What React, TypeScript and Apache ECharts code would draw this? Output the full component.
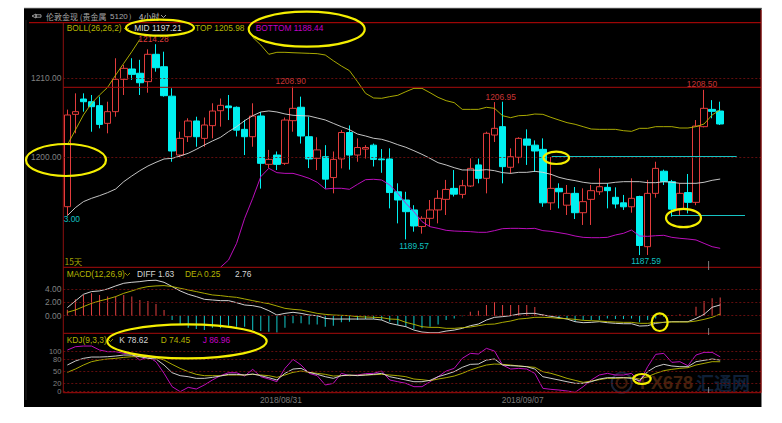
import React, { useEffect, useRef } from "react";
import * as echarts from "echarts";

const opens = [1193.71,1205.4,1207.34,1207.0,1206.5,1204.26,1205.74,1209.83,1211.14,1210.6,1209.54,1213.0,1211.43,1207.7,1200.25,1202.57,1204.56,1202.36,1203.97,1205.86,1206.46,1206.29,1203.5,1202.57,1205.19,1199.07,1200.25,1199.2,1204.6,1206.3,1202.57,1199.83,1200.04,1197.4,1199.75,1203.1,1200.25,1201.0,1201.5,1199.75,1199.75,1195.6,1194.56,1193.3,1191.2,1192.24,1193.3,1194.64,1196.03,1195.27,1196.33,1199.0,1197.3,1202.78,1203.84,1198.7,1199.96,1202.28,1201.5,1200.97,1194.2,1196.03,1193.9,1195.4,1192.95,1194.64,1195.6,1196.16,1194.9,1194.2,1193.7,1195.0,1188.65,1195.4,1198.2,1196.88,1193.4,1195.5,1194.26,1203.84,1206.03,1205.82];
const closes = [1205.32,1205.74,1207.0,1206.37,1204.13,1205.74,1209.83,1211.22,1210.46,1209.4,1213.0,1211.3,1207.76,1200.76,1202.36,1204.56,1202.57,1204.05,1205.82,1206.54,1206.24,1203.4,1202.57,1205.19,1199.2,1199.7,1199.07,1204.68,1206.16,1202.66,1199.75,1200.9,1197.2,1199.7,1203.1,1200.25,1201.2,1201.2,1199.7,1199.65,1195.5,1194.56,1193.08,1191.27,1192.24,1193.3,1194.77,1195.9,1195.3,1196.37,1198.56,1197.3,1203.0,1203.63,1198.78,1200.04,1202.36,1201.5,1200.76,1194.2,1196.03,1195.6,1195.4,1192.95,1194.35,1195.74,1196.24,1195.74,1194.05,1193.7,1194.77,1188.8,1195.4,1198.56,1196.88,1193.4,1195.4,1194.26,1203.92,1206.16,1205.78,1204.18];
const lows = [1192.66,1203.0,1205.74,1203.2,1203.63,1203.0,1205.1,1207.85,1209.75,1207.85,1208.14,1210.8,1207.64,1199.4,1200.0,1201.9,1201.3,1201.3,1202.36,1203.84,1204.68,1202.6,1200.25,1201.3,1196.0,1198.6,1198.35,1199.0,1203.2,1201.7,1198.6,1198.35,1196.0,1195.4,1198.56,1198.4,1199.4,1199.8,1198.8,1198.0,1193.5,1191.6,1189.57,1190.55,1190.3,1191.2,1191.6,1192.66,1195.0,1194.77,1196.2,1196.67,1195.4,1201.9,1196.67,1197.9,1199.2,1199.0,1198.1,1193.7,1193.3,1193.5,1192.66,1192.15,1191.4,1191.4,1195.2,1193.5,1193.5,1193.3,1192.95,1187.59,1187.6,1194.85,1196.46,1192.45,1192.57,1192.87,1193.9,1203.75,1204.9,1204.05];
const highs = [1206.0,1208.06,1208.06,1207.85,1207.64,1207.0,1212.5,1211.65,1212.5,1212.3,1213.63,1214.28,1213.33,1208.7,1203.2,1204.9,1205.1,1205.0,1206.8,1207.4,1207.85,1206.4,1204.7,1206.8,1205.7,1200.9,1200.7,1205.0,1208.9,1207.64,1205.1,1202.5,1201.5,1200.7,1203.4,1204.0,1202.36,1201.5,1201.7,1201.0,1201.1,1196.67,1195.6,1193.9,1192.5,1194.56,1195.8,1197.1,1198.35,1197.1,1199.83,1199.8,1203.2,1206.95,1207.0,1201.1,1202.5,1203.5,1202.1,1202.36,1200.0,1196.67,1196.46,1196.2,1196.03,1196.46,1198.56,1196.67,1196.16,1195.2,1197.3,1195.1,1197.1,1199.4,1198.4,1197.1,1196.67,1197.85,1204.68,1208.5,1207.2,1207.0];

const n = null;
const bollTop = [1201.52,1203.42,1205.32,1206.79,1207.85,1208.82,1210.38,1211.86,1213.33,1214.89,n,n,n,n,n,n,n,n,n,n,n,n,n,1215.15,1214.18,1213.0,1213.25,1213.25,1213.2,1213.16,1213.12,1213.08,1212.91,1212.19,1211.52,1210.93,1209.54,1208.06,1207.47,1207.43,1207.64,1207.81,1208.27,1208.69,1208.69,1208.14,1207.55,1207.13,1206.88,1206.03,1206.03,1206.03,1206.29,1206.16,1205.23,1204.98,1205.23,1205.27,1205.44,1205.4,1205.02,1204.68,1204.35,1204.14,1203.84,1203.54,1203.5,1203.5,1203.5,1203.33,1203.25,1203.63,1203.63,1203.84,1203.84,1203.84,1203.67,1203.67,1203.84,1204.18,1205.32,1205.98];
const bollMid = [1192.58,1193.59,1194.35,1194.77,1195.11,1195.49,1195.95,1196.88,1197.6,1198.27,1198.86,1199.33,1199.75,1199.83,1200.13,1200.47,1200.97,1201.52,1202.03,1202.49,1203.21,1203.84,1204.6,1205.23,1205.7,1205.83,1205.7,1205.45,1205.28,1205.23,1205.19,1204.94,1204.69,1204.26,1203.84,1203.46,1202.91,1202.66,1202.37,1202.24,1201.94,1201.56,1201.23,1200.8,1200.34,1199.83,1199.28,1198.99,1198.65,1198.36,1198.36,1198.31,1198.4,1198.27,1198.02,1197.93,1198.06,1198.06,1198.19,1198.06,1197.81,1197.43,1197.18,1197.01,1196.8,1196.67,1196.67,1196.67,1196.8,1196.88,1196.88,1196.88,1196.75,1196.75,1196.88,1196.8,1196.67,1196.67,1196.67,1196.8,1197.05,1197.21];
const bollBottom = [n,n,n,n,n,n,n,n,n,n,n,n,n,n,n,n,n,n,n,1186.04,1186.96,1189.07,1192.24,1194.77,1197.51,1198.57,1198.02,1197.93,1197.93,1197.64,1197.3,1196.8,1195.95,1196.04,1196.04,1195.91,1196.54,1197.13,1197.18,1197.09,1196.46,1195.4,1194.14,1193.08,1191.82,1191.18,1190.97,1190.72,1190.63,1190.59,1190.55,1190.47,1190.47,1190.68,1190.93,1190.97,1190.97,1190.93,1190.97,1190.68,1190.59,1190.42,1190.25,1190.0,1189.83,1189.79,1189.79,1189.83,1190.13,1190.34,1190.76,1190.0,1189.96,1190.04,1190.09,1189.83,1189.71,1189.62,1189.5,1189.07,1188.65,1188.44];

const macdHist = [0.9,2.48,3.14,3.39,3.14,2.89,2.89,3.14,2.89,2.38,2.23,1.77,0.86,-0.66,-1.42,-1.82,-2.03,-2.18,-1.82,-1.92,-1.52,-1.67,-1.67,-2.18,-2.33,-2.43,-2.53,-1.82,-1.16,-1.16,-1.32,-1.32,-1.67,-1.52,-1.01,-0.91,-0.66,-0.51,-0.51,-0.66,-0.91,-1.42,-1.67,-2.03,-1.92,-1.67,-1.32,-0.66,-0.41,-0.1,0.61,0.76,1.62,2.03,1.62,1.62,1.62,1.62,1.32,0.2,0,-0.41,-0.41,-0.91,-0.66,-0.66,-0.66,-0.41,-0.51,-0.51,-0.41,-1.01,-0.66,-0.41,-0.15,0.1,0.2,0.1,1.37,2.23,2.63,2.76];
const macdDiff = [1.22,2.23,3.24,3.65,3.75,4.05,4.51,4.91,5.06,5.16,5.32,5.37,5.06,4.41,3.75,3.24,2.89,2.48,2.38,2.28,2.28,1.97,1.62,1.52,1.27,0.76,0.1,0.35,0.51,0.35,0.1,0,-0.41,-0.51,-0.51,-0.51,-0.51,-0.51,-0.51,-0.66,-1.16,-1.42,-1.67,-2.18,-2.48,-2.58,-2.58,-2.33,-2.18,-1.92,-1.52,-1.27,-0.66,-0.25,-0.15,0,0.25,0.35,0.35,0.1,-0.1,-0.3,-0.51,-0.91,-1.06,-1.01,-0.91,-1.06,-1.16,-1.22,-1.22,-1.57,-1.52,-1.16,-1.01,-0.91,-0.91,-0.91,-0.41,0.2,1.27,1.63];
const macdDea = [0.51,0.86,1.37,1.87,2.23,2.53,2.89,3.39,3.75,4.15,4.41,4.51,4.56,4.41,4.15,3.9,3.65,3.39,3.14,3.04,2.89,2.78,2.53,2.28,2.03,1.82,1.47,1.11,0.96,0.86,0.61,0.35,0.2,0.1,0.05,0,-0.15,-0.2,-0.25,-0.3,-0.51,-0.56,-1.01,-1.32,-1.67,-1.77,-1.77,-1.92,-1.92,-1.82,-1.72,-1.52,-1.32,-1.27,-1.01,-0.81,-0.51,-0.41,-0.25,-0.25,-0.3,-0.41,-0.46,-0.56,-0.71,-0.76,-0.81,-0.91,-0.96,-1.01,-1.01,-1.16,-1.16,-1.01,-1.01,-0.96,-0.96,-0.96,-0.81,-0.56,-0.25,0.25];

const kdjK = [66.1,76.3,83.1,86.4,86.4,87.3,89,91.5,91.5,87.3,83.1,81.4,66.1,46.6,39,36.4,32.2,32.2,34.7,38.1,42.4,42.4,40.7,43.2,39,33.9,28,44.9,55.9,57.6,47.5,42.4,36.4,32.2,39,40.7,39,40.7,42.4,44.9,36.4,32.2,28,23.7,23.7,27.1,36.4,42.4,49.2,60.2,67.8,68.6,78.8,81.4,66.1,64.4,63.6,61.9,55.9,36.4,32.2,28,23.7,19.5,19.5,23.7,30.5,33.9,33.9,33.9,32.2,26.3,49.2,61.9,67.8,63.6,61.9,61.9,74.6,78,81.4,78.62];
const kdjD = [47.5,55.9,66.1,74.6,78.8,81.4,83.1,85.6,87.3,87.3,87.3,84.7,78.8,67.8,57.6,49.2,42.4,39,39,39,40.7,40.7,40.7,42.4,40.7,39,34.7,40.7,47.5,50.8,47.5,44.9,42.4,38.1,39,39.8,39.8,40.7,41.5,42.4,40.7,39,36.4,30.5,28.8,26.3,30.5,33.9,38.1,44.9,53.4,60.2,66.1,68.6,67.8,66.1,63.6,61.9,60.2,49.2,44.9,39,32.2,27.1,22,25.4,28.8,32.2,32.2,33.9,33.9,30.5,36.4,44.9,51.7,55.1,57.6,59.3,66.1,70.3,74.6,74.45];
const kdjJ = [104.2,112.7,114.4,114.4,104.2,100,100,95.8,94.1,78.8,87.3,74.6,44.9,11,-1.7,9.3,5.1,15.3,28,39,46.6,46.6,38.1,55.1,36.4,30.5,23.7,57.6,80.5,66.1,44.9,39,15.3,19.5,44.9,39,40.7,44.1,44.9,50.8,28,23.7,19.5,11,11,23.7,36.4,50.8,57.6,83.1,95.8,94.1,108.5,101.7,66.1,55.9,57.6,55.9,44.9,6.8,4.2,2.5,0,-3.4,11,28,40.7,44.9,40.7,40.7,44.9,22,61.9,93.2,95.8,72.9,74.6,64.4,91.5,98.3,98.3,86.96];

const categoryCount = 87;
const dateTicks: Record<number, string> = { 26: "2018/08/31", 56: "2018/09/07" };
const priceTicks = [1200, 1210];
const macdTicks = [0, 2, 4];
const kdjTicks = [0, 20, 50, 80, 100];

const W = 782;
const H = 423;
const LEFT = 63.3;
const BAND = 8.06;
const GRID_W = BAND * categoryCount;
const RIGHT_EDGE = 761;
const T1 = 22.7, B1 = 267.3, B2 = 333.3, B3 = 392.7;

const RED = "#e23c3c";
const CYAN = "#00f0f0";
const FRAME = "#a80c0c";
const YEL = "#bcbc00";
const WHITE = "#d8d8d8";
const MAG = "#d010d0";
const FONT = "'Liberation Sans', Arial, sans-serif";
const CJK = "'Noto Sans CJK SC', sans-serif";

const cats = Array.from({ length: categoryCount }, (_, i) => String(i));

const txt = (x: number, y: number, text: string, fill: string, fontSize = 8.4, fontFamily = FONT, extra: any = {}, z = 12) => ({
  type: "text", x, y, z, silent: true,
  style: { text, fill, fontSize, fontFamily, textVerticalAlign: "middle", verticalAlign: "middle", ...extra },
});
const ctr = (x: number, y: number, text: string, fill: string) => txt(x, y, text, fill, 8.4, FONT, { align: "center", textAlign: "center" });
const hline = (x1: number, x2: number, y: number, stroke: string, lineWidth = 1) => ({
  type: "line", z: 11, silent: true, shape: { x1, y1: y, x2, y2: y }, style: { stroke, lineWidth },
});
const vline = (x: number, y1: number, y2: number, stroke: string, lineWidth = 1) => ({
  type: "line", z: 11, silent: true, shape: { x1: x, y1, x2: x, y2 }, style: { stroke, lineWidth },
});
const oval = (cx: number, cy: number, rx: number, ry: number) => ({
  type: "ellipse", z: 14, silent: true, shape: { cx, cy, rx, ry },
  style: { fill: "transparent", stroke: "#f4ee00", lineWidth: 2.2 },
});
const chev = (x: number, y: number, stroke: string) => ({
  type: "polyline", z: 12, silent: true,
  shape: { points: [[x, y], [x + 2.5, y + 2.5], [x + 5, y]] }, style: { stroke, fill: "transparent", lineWidth: 0.8 },
});

const dashLine = (axisIdx: number, values: number[]) => ({
  type: "line", xAxisIndex: axisIdx, yAxisIndex: axisIdx, data: [], silent: true, symbol: "none", z: 1,
  markLine: {
    silent: true, symbol: "none", animation: false, label: { show: false },
    lineStyle: { color: "#7a1010", type: [2, 2], width: 0.8 },
    data: values.map((v) => ({ yAxis: v })),
  },
});

const lineSeries = (idx: number, data: any[], color: string, name: string) => ({
  name, type: "line", xAxisIndex: idx, yAxisIndex: idx, data, symbol: "none", showSymbol: false,
  connectNulls: false, lineStyle: { color, width: 0.9 }, itemStyle: { color }, z: 4, silent: true,
});

const xAxisBase = (gridIndex: number, labels: boolean) => ({
  type: "category", gridIndex, data: cats, boundaryGap: true,
  axisLine: { show: false }, axisTick: { show: false }, splitLine: { show: false },
  axisLabel: labels
    ? {
        show: true, interval: 0, color: "#7c7c7c", fontSize: 8.4, fontFamily: FONT, margin: 3, padding: [0, 0, 0, 8],
        formatter: (_: string, i: number) => dateTicks[i] || "",
      }
    : { show: false },
});

const yAxisBase = (gridIndex: number, min: number, max: number, ticks: number[], digits: number, fontSize = 8.4) => ({
  type: "value", gridIndex, min, max, scale: true,
  axisLine: { show: false }, axisTick: { show: false }, splitLine: { show: false },
  axisLabel: {
    show: true, customValues: ticks, color: "#808080", fontSize, fontFamily: FONT, margin: 2,
    lineHeight: fontSize, formatter: (v: number) => v.toFixed(digits),
  },
});

export default function App() {
  const ref = useRef<HTMLDivElement>(null);
  useEffect(() => {
    const chart = echarts.init(ref.current!, null, { renderer: "svg" });
    chart.setOption({
      animation: false,
      backgroundColor: "#ffffff",
      grid: [
        { left: LEFT, top: T1, width: GRID_W, height: B1 - T1 },
        { left: LEFT, top: B1, width: GRID_W, height: B2 - B1 },
        { left: LEFT, top: B2, width: GRID_W, height: B3 - B2 },
      ],
      xAxis: [xAxisBase(0, false), xAxisBase(1, false), xAxisBase(2, true)],
      yAxis: [
        yAxisBase(0, 1186.04, 1217, priceTicks, 2),
        yAxisBase(1, -2.67, 7.33, macdTicks, 2),
        yAxisBase(2, -4.3, 146.8, kdjTicks, 0, 7.4),
      ],
      series: [
        dashLine(0, priceTicks),
        dashLine(1, macdTicks),
        dashLine(2, kdjTicks),
        {
          type: "candlestick", xAxisIndex: 0, yAxisIndex: 0, barWidth: 7, z: 3, silent: true,
          data: opens.map((o, i) => [o, closes[i], lows[i], highs[i]]),
          itemStyle: { color: "#000000", color0: CYAN, borderColor: RED, borderColor0: CYAN, borderWidth: 1 },
        },
        lineSeries(0, bollTop, YEL, "TOP"),
        lineSeries(0, bollMid, WHITE, "MID"),
        lineSeries(0, bollBottom, MAG, "BOTTOM"),
        {
          type: "bar", xAxisIndex: 1, yAxisIndex: 1, barWidth: 1, z: 3, silent: true,
          data: macdHist,
          itemStyle: { color: (p: any) => (p.value >= 0 ? "#e04040" : "#12c8c8") },
        },
        lineSeries(1, macdDiff, "#e8e8e8", "DIFF"),
        lineSeries(1, macdDea, YEL, "DEA"),
        lineSeries(2, kdjJ, MAG, "J"),
        lineSeries(2, kdjD, YEL, "D"),
        lineSeries(2, kdjK, "#e0e0e0", "K"),
      ],
      graphic: [
        { type: "rect", z: -5, silent: true, shape: { x: 24, y: 8, width: 737.7, height: 399 }, style: { fill: "#000000" } },
        { type: "rect", z: 10, silent: true, shape: { x: 761.7, y: 0, width: 30, height: H }, style: { fill: "#ffffff" } },
        hline(24, 761.7, 8.3, "#555555", 1),
        vline(26, 20, 400, "#222222", 1),
        // frames
        hline(29, RIGHT_EDGE, T1, "#c00808", 1),
        hline(LEFT, RIGHT_EDGE, 87.3, FRAME, 1),
        hline(LEFT, RIGHT_EDGE, B1, FRAME, 1),
        hline(LEFT, RIGHT_EDGE, B2, FRAME, 1),
        hline(LEFT, RIGHT_EDGE, B3, FRAME, 1),
        vline(LEFT, T1, B3, "#8c1010", 1),
        vline(RIGHT_EDGE, 10, B3, "#b00c0c", 1),
        // annotation lines and cursor marks
        hline(551.7, 736.7, 156.5, "#18d8d8", 0.9),
        hline(672, 745, 215.5, "#18d8d8", 0.9),
        vline(708.6, 261, 270, "#9a9a9a", 0.8),
        vline(708.6, 328, 335, "#9a9a9a", 0.8),
        vline(708.6, 387, 393, "#9a9a9a", 0.8),
        // header
        { type: "polyline", z: 12, silent: true, shape: { points: [[32, 16], [36, 14], [36, 18], [32, 16]] }, style: { stroke: "#bbbbbb", fill: "transparent", lineWidth: 0.8 } },
        { type: "rect", z: 12, silent: true, shape: { x: 36, y: 14.8, width: 5, height: 2.4 }, style: { stroke: "#bbbbbb", fill: "transparent", lineWidth: 0.8 } },
        txt(46, 16, "伦敦金现 (贵金属", "#a8a8a8", 8, CJK),
        txt(110, 16, "5120）", "#a8a8a8", 8),
        txt(139, 16, "4小时", "#c0c0c0", 8, CJK),
        chev(161, 15, "#c0c0c0"),
        // BOLL legend
        txt(66.7, 28, "BOLL(26,26,2)", "#b4b400"),
        chev(124, 28, "#b4b400"),
        txt(134.3, 28, "MID 1197.21", "#dcdcdc"),
        txt(195, 28, "TOP 1205.98", "#b4b400"),
        txt(255.7, 28, "BOTTOM 1188.44", "#c400c4"),
        // MACD legend
        txt(66.7, 273.7, "MACD(12,26,9)", "#b4b400"),
        chev(125, 273, "#b4b400"),
        txt(137, 273.7, "DIFF 1.63", "#d4d4d4"),
        txt(185, 273.7, "DEA 0.25", "#b4b400"),
        txt(235, 273.7, "2.76", "#d4d4d4"),
        // KDJ legend
        txt(66.7, 339.7, "KDJ(9,3,3)", "#b4b400"),
        chev(108, 339, "#b4b400"),
        txt(119.3, 339.7, "K 78.62", "#d4d4d4"),
        txt(160.7, 339.7, "D 74.45", "#b4b400"),
        txt(202.7, 339.7, "J 86.96", "#c400c4"),
        // extremum labels
        ctr(153.5, 38.5, "1214.28", "#d83a3a"),
        ctr(290.7, 81, "1208.90", "#c83434"),
        ctr(500.7, 97, "1206.95", "#c83434"),
        ctr(702, 84, "1208.50", "#c83434"),
        ctr(414, 245.5, "1189.57", "#10c0c0"),
        ctr(646, 261.3, "1187.59", "#10c0c0"),
        txt(63.7, 219, "3.00", "#10c0c0"),
        txt(64.5, 261, "15天", "#a8a800", 8.4, CJK),
        // watermark
        { type: "circle", z: 1, silent: true, shape: { cx: 621.7, cy: 382.7, r: 10 }, style: { fill: "transparent", stroke: "#1a2438", lineWidth: 2 } },
        { type: "circle", z: 1, silent: true, shape: { cx: 621.7, cy: 382.7, r: 5 }, style: { fill: "transparent", stroke: "#3e1e0c", lineWidth: 2 } },
        txt(640, 383, "FX678", "#44220e", 18, FONT, { fontWeight: "bold" }, 1),
        txt(696, 382, "汇通网", "#0f2038", 18, CJK, { fontWeight: "bold" }, 1),
        // highlight ellipses
        oval(160, 27.7, 34, 8),
        oval(306.7, 29.2, 58, 17.5),
        oval(66, 160, 40, 16),
        oval(556.3, 157.8, 12.8, 6.2),
        oval(683.5, 218, 17.5, 9.2),
        oval(187, 341.3, 79.7, 17),
        oval(659.7, 322.2, 8, 8.8),
        oval(642, 379, 8.7, 5),
      ],
    });
    return () => chart.dispose();
  }, []);
  return <div ref={ref} style={{ position: "fixed", left: 0, top: 0, width: W, height: H }} />;
}
